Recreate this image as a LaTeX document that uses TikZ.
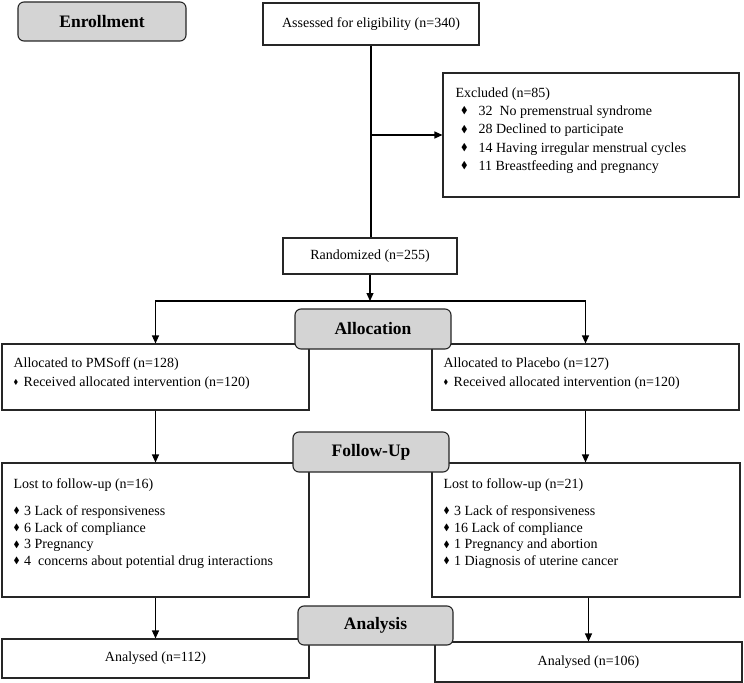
\documentclass[tikz,border=0pt]{standalone}
\usepackage{fontspec}
\setmainfont{Liberation Serif}
\usepackage{amssymb}
\usepackage{graphicx}
\usetikzlibrary{arrows.meta,positioning}

\newcommand{\itm}[1][0.6]{\raisebox{0.25ex}{\scalebox{#1}{$\blacklozenge$}}}

\begin{document}
\begin{tikzpicture}[x=1bp,y=-1bp,line width=1.1bp,>={Triangle[length=8bp,width=7bp]},
	caixa/.style={draw=black!85,rectangle,inner sep=0pt,font=\fontsize{14bp}{16.7bp}\selectfont},
	fase/.style={draw=black!85,fill=black!17,rounded corners=6bp,inner sep=0pt,minimum width=156bp,minimum height=40bp,font=\fontsize{17.5bp}{20bp}\selectfont\bfseries},
	texto/.style={inner sep=0pt,align=left,anchor=north west,font=\fontsize{14bp}{16.7bp}\selectfont}]
		
		\useasboundingbox (0,0) rectangle (744,683);
		
%		triagem
		\node[caixa,minimum width=216bp,minimum height=42bp] (ass) at (371,24) {Assessed for eligibility (n=340)};
		\node[caixa,minimum width=296bp,minimum height=124bp] (excl) at (591,135) {};
		\node[texto,font=\fontsize{14bp}{18.3bp}\selectfont] (exclt) at (455,87) {Excluded (n=85)\\
			\hspace*{5.5bp}\itm[0.7]\hspace{11bp}32\ \ No premenstrual syndrome\\
			\hspace*{5.5bp}\itm[0.7]\hspace{11bp}28 Declined to participate\\
			\hspace*{5.5bp}\itm[0.7]\hspace{11bp}14 Having irregular menstrual cycles\\
			\hspace*{5.5bp}\itm[0.7]\hspace{11bp}11 Breastfeeding and pregnancy};
		\node[caixa,minimum width=174bp,minimum height=36bp] (rand) at (370,256) {Randomized (n=255)};
		
%		alocacao
		\node[caixa,minimum width=307bp,minimum height=66bp] (pms) at (155.5,377) {};
		\node[texto,font=\fontsize{14bp}{19bp}\selectfont] (pmst) at (13,357) {Allocated to PMSoff (n=128)\\
			\itm[0.5]\hspace{5.5bp}Received allocated intervention (n=120)};
		\node[caixa,minimum width=307bp,minimum height=66bp] (plac) at (585.5,377) {};
		\node[texto,font=\fontsize{14bp}{19bp}\selectfont] (plact) at (443,357) {Allocated to Placebo (n=127)\\
			\itm[0.5]\hspace{5.5bp}Received allocated intervention (n=120)};
		
%		seguimento
		\node[caixa,minimum width=307bp,minimum height=134bp] (lost1) at (155.5,530) {};
		\node[texto] (lost1t) at (13,478) {Lost to follow-up (n=16)\\[10.3bp]
			\itm[0.65]\hspace{4.5bp}3 Lack of responsiveness\\
			\itm[0.65]\hspace{4.5bp}6 Lack of compliance\\
			\itm[0.65]\hspace{4.5bp}3 Pregnancy\\
			\itm[0.65]\hspace{4.5bp}4\ \ concerns about potential drug interactions};
		\node[caixa,minimum width=308bp,minimum height=134bp] (lost2) at (586,530) {};
		\node[texto] (lost2t) at (443,478) {Lost to follow-up (n=21)\\[10.3bp]
			\itm[0.65]\hspace{4.5bp}3 Lack of responsiveness\\
			\itm[0.65]\hspace{4.5bp}16 Lack of compliance\\
			\itm[0.65]\hspace{4.5bp}1 Pregnancy and abortion\\
			\itm[0.65]\hspace{4.5bp}1 Diagnosis of uterine cancer};
		
%		analise
		\node[caixa,minimum width=307bp,minimum height=39bp] (an1) at (155.5,658.5) {Analysed (n=112)};
		\node[caixa,minimum width=307bp,minimum height=40bp] (an2) at (588.5,662) {Analysed (n=106)};
		
%		setas
		\draw (ass.south) -- (ass.south |- rand.north);
		\draw[->] (ass.south |- excl.west) -- (excl.west);
		\coordinate (div) at (rand.south |- 0,301);
		\draw[->] (rand.south) -- (div);
		\draw[->] (div) -| (pms.north);
		\draw[->] (div) -| (plac.north);
		\draw[->] (pms.south) -- (lost1.north);
		\draw[->] (plac.south) -- (plac.south |- lost2.north);
		\draw[->] (lost1.south) -- (an1.north);
		\draw[->] (an2.north |- lost2.south) -- (an2.north);
		
%		etapas
		\node[fase,minimum width=168bp,minimum height=39bp] (enr) at (102,21.5) {Enrollment};
		\node[fase] (aloc) at (373,329) {Allocation};
		\node[fase] (foll) at (371,452) {Follow-Up};
		\node[fase,minimum width=155bp,minimum height=39bp] (anal) at (375.5,625.5) {Analysis};
		
		\end{tikzpicture}
\end{document}
